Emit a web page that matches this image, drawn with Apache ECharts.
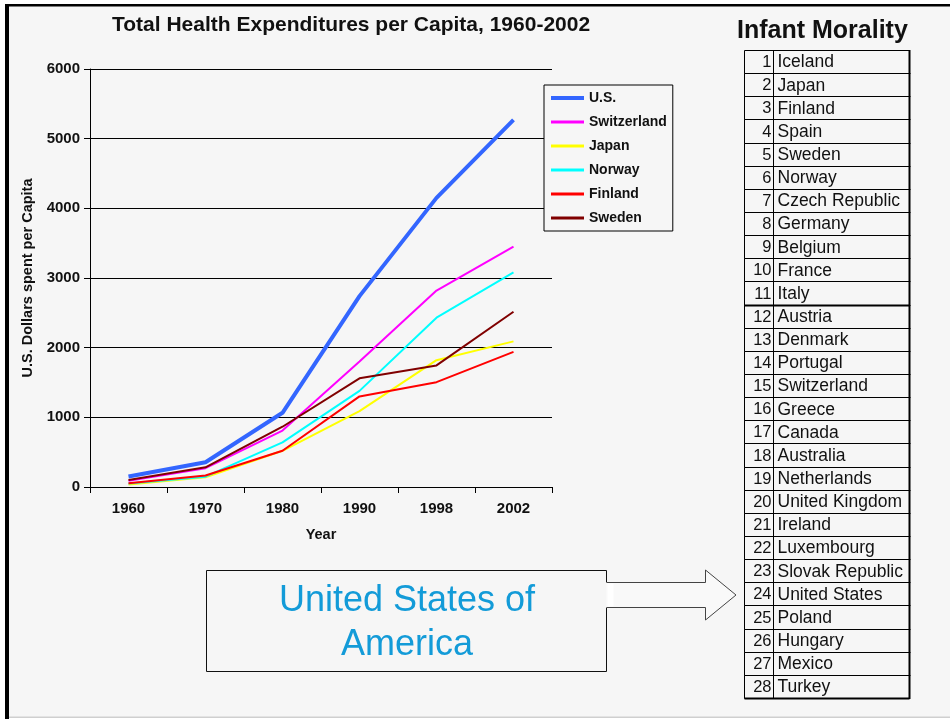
<!DOCTYPE html>
<html>
<head>
<meta charset="utf-8">
<script src="https://cdn.jsdelivr.net/npm/echarts@6/dist/echarts.min.js"></script>
<style>
html,body{margin:0;padding:0;background:#fff;}
#c{width:950px;height:719px;}
</style>
</head>
<body>
<div id="c"></div>
<script>
// ---- data ----
const years = ['1960', '1970', '1980', '1990', '1998', '2002'];
const seriesNames = ['U.S.', 'Switzerland', 'Japan', 'Norway', 'Finland', 'Sweden'];
const usValues = [150, 355, 1065, 2740, 4150, 5270];
const switzerlandValues = [90, 270, 810, 1800, 2820, 3450];
const japanValues = [35, 140, 520, 1090, 1820, 2090];
const norwayValues = [50, 148, 640, 1380, 2430, 3080];
const finlandValues = [55, 165, 520, 1300, 1505, 1940];
const swedenValues = [100, 282, 865, 1560, 1745, 2515];
const rankCountries = ['Iceland', 'Japan', 'Finland', 'Spain', 'Sweden', 'Norway', 'Czech Republic',
  'Germany', 'Belgium', 'France', 'Italy', 'Austria', 'Denmark', 'Portugal', 'Switzerland', 'Greece',
  'Canada', 'Australia', 'Netherlands', 'United Kingdom', 'Ireland', 'Luxembourg', 'Slovak Republic',
  'United States', 'Poland', 'Hungary', 'Mexico', 'Turkey'];
const ranks = rankCountries.map((_, i) => i + 1);
const chartTitle = 'Total Health Expenditures per Capita, 1960-2002';
const tableTitle = 'Infant Morality';
const calloutText = 'United States of\nAmerica';

// ---- styling ----
const FONT = "Arial, 'Liberation Sans', sans-serif";
const BG = '#f6f6f6';
const colors = ['#3366FF', '#FF00FF', '#FFFF00', '#00FFFF', '#FF0000', '#800000'];
const widths = [4, 2, 2, 2, 2, 2];
const legendWidths = [4, 3, 3, 3, 3, 3];
const valueArrays = [usValues, switzerlandValues, japanValues, norwayValues, finlandValues, swedenValues];

const chart = echarts.init(document.getElementById('c'), null, {renderer: 'canvas'});

const lineSeries = seriesNames.map((name, k) => ({
  name: name,
  type: 'line',
  xAxisIndex: 0,
  yAxisIndex: 0,
  data: valueArrays[k],
  symbol: 'none',
  z: k === 0 ? 4 : 3,
  lineStyle: {color: colors[k], width: widths[k]},
  itemStyle: {color: colors[k]},
  animation: false
}));

const tableSeries = {
  type: 'custom',
  xAxisIndex: 1,
  yAxisIndex: 1,
  animation: false,
  data: rankCountries.map((name, i) => ({value: [0, i], name: name})),
  renderItem: function (params, api) {
    const i = api.value(1);
    const idx = params.dataIndex;
    const center = api.coord([0, i]);
    const h = api.size([0, 1])[1];
    const left = Math.round(center[0]) + 0.5;
    const right = Math.round(api.coord([166, i])[0]) - 0.5;
    const div = Math.round(api.coord([29, i])[0]) + 0.5;
    const top = Math.round(center[1] - h / 2) + 0.5;
    const bottom = Math.round(center[1] + h / 2) + 0.5;
    const children = [
      {type: 'line', shape: {x1: left, y1: top, x2: right, y2: top}, style: {stroke: '#000', lineWidth: 1}},
      {type: 'line', shape: {x1: left, y1: bottom, x2: right, y2: bottom}, style: {stroke: '#000', lineWidth: 1}},
      {type: 'line', shape: {x1: left, y1: top, x2: left, y2: bottom}, style: {stroke: '#000', lineWidth: 1}},
      {type: 'line', shape: {x1: div, y1: top, x2: div, y2: bottom}, style: {stroke: '#000', lineWidth: 1}},
      {type: 'line', shape: {x1: right, y1: top - 0.5, x2: right, y2: bottom + 0.5}, style: {stroke: '#000', lineWidth: 2}},
      {type: 'text', style: {text: String(ranks[idx]), x: div - 2, y: center[1] + 1, align: 'right', verticalAlign: 'middle', font: '16.5px ' + FONT, fill: '#111'}},
      {type: 'text', style: {text: rankCountries[idx], x: div + 4, y: center[1] + 1, align: 'left', verticalAlign: 'middle', font: '17.5px ' + FONT, fill: '#111'}}
    ];
    if (idx === 10 || idx === rankCountries.length - 1) {
      children.push({type: 'line', shape: {x1: left, y1: bottom, x2: right, y2: bottom}, style: {stroke: '#000', lineWidth: 2}});
    }
    return {type: 'group', children: children};
  }
};

const option = {
  backgroundColor: BG,
  animation: false,
  title: [
    {text: chartTitle, left: 112, top: 15, padding: 0,
     textStyle: {fontFamily: FONT, fontSize: 21, fontWeight: 'bold', color: '#111'}},
    {text: tableTitle, left: 737, top: 19, padding: 0,
     textStyle: {fontFamily: FONT, fontSize: 25, fontWeight: 'bold', color: '#111'}}
  ],
  legend: {
    orient: 'vertical',
    left: 544,
    top: 85,
    padding: [6, 6, 6, 5],
    itemGap: 10,
    itemWidth: 33,
    itemHeight: 14,
    backgroundColor: BG,
    borderColor: '#000',
    borderWidth: 1,
    z: 10,
    itemStyle: {opacity: 0},
    data: seriesNames.map((name, k) => ({name: name, lineStyle: {width: legendWidths[k]}})),
    textStyle: {fontFamily: FONT, fontSize: 14, fontWeight: 'bold', color: '#111'}
  },
  grid: [
    {left: 90, top: 69, width: 462, height: 418},
    {left: 744, top: 50, width: 166, height: 648}
  ],
  xAxis: [
    {
      type: 'category',
      gridIndex: 0,
      data: years,
      boundaryGap: true,
      name: 'Year',
      nameLocation: 'middle',
      nameGap: 40,
      nameTextStyle: {fontFamily: FONT, fontSize: 14.5, fontWeight: 'bold', color: '#111'},
      axisLine: {lineStyle: {color: '#000', width: 1}},
      axisTick: {show: true, length: 6, lineStyle: {color: '#000'}},
      axisLabel: {fontFamily: FONT, fontSize: 15, fontWeight: 'bold', color: '#111', margin: 14},
      splitLine: {show: false}
    },
    {type: 'value', gridIndex: 1, min: 0, max: 166, show: false}
  ],
  yAxis: [
    {
      type: 'value',
      gridIndex: 0,
      min: 0,
      max: 6000,
      interval: 1000,
      name: 'U.S. Dollars spent per Capita',
      nameLocation: 'middle',
      nameGap: 55,
      nameTextStyle: {fontFamily: FONT, fontSize: 14.5, fontWeight: 'bold', color: '#111'},
      axisLine: {show: true, lineStyle: {color: '#000', width: 1}},
      axisTick: {show: true, length: 6, lineStyle: {color: '#000'}},
      axisLabel: {fontFamily: FONT, fontSize: 15, fontWeight: 'bold', color: '#111', margin: 10,
        formatter: function (v) { return String(v); }},
      splitLine: {show: true, lineStyle: {color: '#000', width: 1}}
    },
    {type: 'category', gridIndex: 1, data: ranks.map(String), inverse: true, show: false}
  ],
  series: lineSeries.concat([tableSeries]),
  graphic: [
    // page frame
    {type: 'rect', shape: {x: 0, y: 0, width: 5, height: 719}, style: {fill: '#fff'}, silent: true},
    {type: 'rect', shape: {x: 0, y: 0, width: 950, height: 4}, style: {fill: '#fff'}, silent: true},
    {type: 'rect', shape: {x: 5, y: 4, width: 4, height: 715}, style: {fill: '#000'}, silent: true},
    {type: 'rect', shape: {x: 5, y: 4, width: 945, height: 2.5}, style: {fill: '#000'}, silent: true},
    {type: 'rect', shape: {x: 9, y: 716.5, width: 941, height: 1.5}, style: {fill: '#cfcfcf'}, silent: true},
    {type: 'rect', shape: {x: 9, y: 718, width: 941, height: 1}, style: {fill: '#fff'}, silent: true},
    // callout box
    {type: 'rect', shape: {x: 206.5, y: 570.5, width: 400, height: 101},
     style: {fill: BG, stroke: '#111', lineWidth: 1}, silent: true},
    {type: 'text', x: 407, y: 623,
     style: {text: calloutText, font: '36px ' + FONT, fill: '#139bd8', align: 'center', verticalAlign: 'middle', lineHeight: 44},
     silent: true},
    // arrow
    {type: 'polygon', shape: {points: [[606, 582.5], [705.5, 582.5], [705.5, 570], [736, 595], [705.5, 620], [705.5, 607.5], [606, 607.5]]},
     style: {fill: '#f9f9f9', stroke: 'none'}, silent: true},
    {type: 'polyline', shape: {points: [[607, 582.5], [705.5, 582.5], [705.5, 570], [736, 595], [705.5, 620], [705.5, 607.5], [607, 607.5]]},
     style: {fill: 'none', stroke: '#444', lineWidth: 1}, silent: true},
    {type: 'rect', shape: {x: 607.5, y: 583.5, width: 6, height: 23}, style: {fill: '#fff'}, silent: true}
  ]
};

chart.setOption(option);
</script>
</body>
</html>
